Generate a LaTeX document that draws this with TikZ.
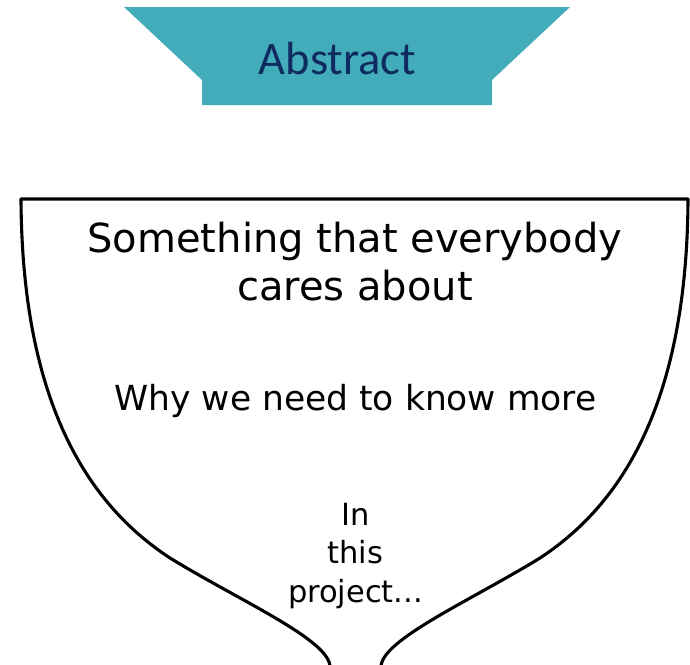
\documentclass[tikz,border=0pt]{standalone}
\usepackage{fontspec}
\setmainfont{DejaVu Sans}
\newfontfamily\bannerfont{Carlito}
\definecolor{bannerteal}{HTML}{43ACBA}
\definecolor{bannernavy}{HTML}{0F2B5F}
\tikzset{
  cupline/.style={draw=black, line width=3.1pt, line join=round},
  bigtext/.style={anchor=base, align=center, inner sep=0pt, font=\fontsize{40}{48}\selectfont},
  midtext/.style={anchor=base, align=center, inner sep=0pt, font=\fontsize{34.5}{41}\selectfont},
  smalltext/.style={anchor=base, align=center, inner sep=0pt, font=\fontsize{30.5}{38.5}\selectfont},
  titletext/.style={anchor=base, inner sep=0pt, text=bannernavy, font=\bannerfont\fontsize{46.5}{50}\selectfont}
}
\begin{document}
\begin{tikzpicture}[x=1pt,y=-1pt]
\useasboundingbox (0,0) rectangle (690,664);
% banner
\fill[bannerteal] (124,7) -- (570,7) -- (492,80) -- (492,105) -- (202,105) -- (202,80) -- cycle;
\node[titletext] (title) at (337.5,74) {Abstract};
% cup
\coordinate (ltop) at (21,199);
\coordinate (rtop) at (688,199);
\coordinate (lbot) at (330,667);
\coordinate (rbot) at (381,667);
\draw[cupline] (lbot) .. controls (330,640) and (240,601) .. (170,558)
  .. controls (100,512) and (22,420) .. (ltop) -- (rtop)
  .. controls (687,420) and (610,512) .. (540,558)
  .. controls (470,601) and (381,640) .. (rbot);
% texts
\node[bigtext] (care) at (355,300) {Something that everybody\\cares about};
\node[midtext] (why) at (355.5,410) {Why we need to know more};
\node[smalltext] (proj) at (355.5,602) {In\\this\\project...};
\end{tikzpicture}
\end{document}
